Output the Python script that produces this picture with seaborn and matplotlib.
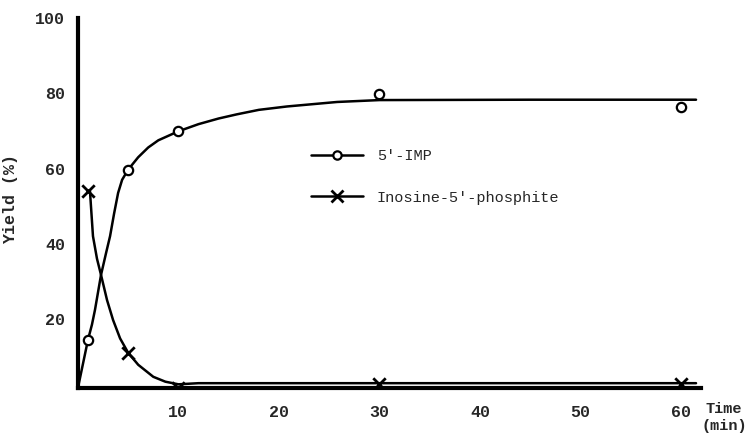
import numpy as np
import pandas as pd
import matplotlib
matplotlib.use("Agg")
import matplotlib.pyplot as plt
from matplotlib.lines import Line2D
import seaborn as sns

# -----------------------------
# Data
# -----------------------------
# measured points
imp_t = [1, 5, 10, 30, 60]
imp_y = [14.4, 59.7, 69.9, 79.7, 76.3]
phos_t = [1, 5, 10, 30, 60]
phos_y = [54.0, 11.0, 1.6, 2.6, 2.6]

# hand-drawn curves
imp_curve_t = [0, 1, 1.4, 1.7, 2.3, 2.8, 3.2, 3.6, 4.0, 4.4, 5, 6, 7, 8, 10,
               12, 14, 15.8, 18, 20.8, 25.8, 30, 45, 61.5]
imp_curve_y = [1.6, 14.4, 18.5, 22.4, 31.7, 37.5, 42.0, 48.0, 53.5, 57.0, 59.7,
               63.0, 65.6, 67.5, 69.9, 71.8, 73.3, 74.4, 75.6, 76.5, 77.7, 78.2, 78.3, 78.3]
phos_curve_t = [1.2, 1.35, 1.5, 1.9, 2.3, 2.9, 3.5, 4.2, 5, 6, 7.5, 8.7, 10,
                12, 30, 45, 61.5]
phos_curve_y = [54.0, 48.0, 42.0, 36.0, 31.7, 25.0, 19.7, 14.8, 11.0, 7.8, 4.6,
                3.3, 2.6, 2.9, 2.9, 2.9, 2.9]

x_ticks = [10, 20, 30, 40, 50, 60]
y_ticks = [20, 40, 60, 80, 100]
labels = ["5'-IMP", "Inosine-5'-phosphite"]

sns.set_style("white")
plt.rcParams["font.family"] = ["Liberation Mono", "DejaVu Sans Mono"]

fig = plt.figure(figsize=(7.49, 4.42), dpi=100)
ax = fig.add_axes([0.104, 0.122, 0.832, 0.837])

curves = pd.DataFrame({"t": imp_curve_t, "y": imp_curve_y})
sns.lineplot(data=curves, x="t", y="y", color="black", lw=1.8, ax=ax, sort=False)
curves2 = pd.DataFrame({"t": phos_curve_t, "y": phos_curve_y})
sns.lineplot(data=curves2, x="t", y="y", color="black", lw=1.8, ax=ax, sort=False)

sns.scatterplot(x=imp_t, y=imp_y, marker="o", s=45, facecolor="white",
                edgecolor="black", linewidth=1.6, ax=ax, zorder=5)
sns.scatterplot(x=phos_t, y=phos_y, marker="x", s=80, color="black",
                linewidth=2, ax=ax, zorder=5)

ax.set_xlim(0, 62)
ax.set_ylim(1.6, 100)
ax.set_xticks(x_ticks)
ax.set_yticks(y_ticks)
ax.set_xticklabels([str(v) for v in x_ticks], fontsize=12, fontweight="bold")
ax.set_yticklabels([str(v) for v in y_ticks], fontsize=12, fontweight="bold")
ax.tick_params(axis="both", direction="out", length=8, width=1.8, color="black", pad=1)
ax.tick_params(axis="x", pad=4)
ax.set_xlabel("")
ax.set_ylabel("Yield (%)", fontsize=12, fontweight="bold")
ax.yaxis.set_label_coords(-0.096, 0.51)

for side in ["top", "right"]:
    ax.spines[side].set_visible(False)
for side in ["left", "bottom"]:
    ax.spines[side].set_linewidth(3)
    ax.spines[side].set_color("black")

ax.text(1.037, -0.038, "Time\n(min)", transform=ax.transAxes, fontsize=11,
        fontweight="bold", ha="center", va="top", linespacing=1.3)

handles = [
    Line2D([], [], color="black", lw=1.8, marker="o", markersize=6,
           markerfacecolor="white", markeredgewidth=1.6),
    Line2D([], [], color="black", lw=1.8, marker="x", markersize=9, markeredgewidth=2),
]
ax.legend(handles, labels, loc="upper left", bbox_to_anchor=(0.352, 0.683),
          frameon=False, prop={"family": "Liberation Mono", "size": 11},
          handlelength=3.4, handletextpad=0.9, labelspacing=1.8)

plt.savefig("out.png", dpi=100)
